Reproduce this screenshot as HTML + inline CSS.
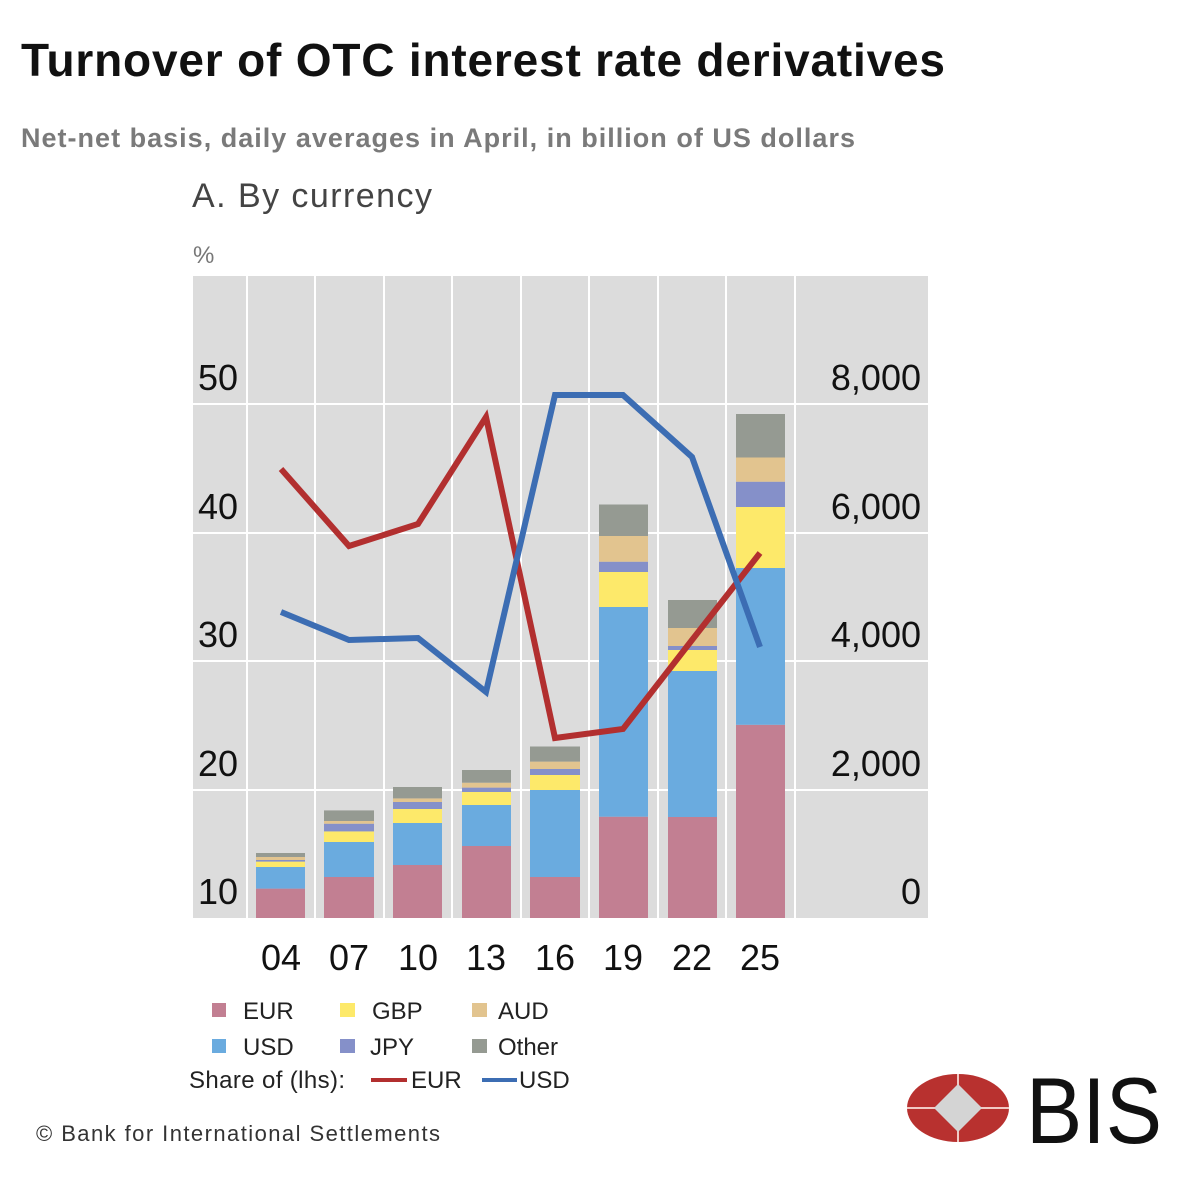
<!DOCTYPE html>
<html><head><meta charset="utf-8"><style>
html,body{margin:0;padding:0;background:#fff;}
svg{display:block;font-family:"Liberation Sans",sans-serif;}
</style></head><body>
<svg width="1200" height="1200" viewBox="0 0 1200 1200" xmlns="http://www.w3.org/2000/svg">
<rect width="1200" height="1200" fill="#fff"/>
<text x="21" y="76" font-size="46" font-weight="bold" fill="#111" textLength="924" lengthAdjust="spacing">Turnover of OTC interest rate derivatives</text>
<text x="21" y="147" font-size="27" font-weight="bold" fill="#7a7a7a" textLength="834" lengthAdjust="spacing">Net-net basis, daily averages in April, in billion of US dollars</text>
<text x="192" y="207" font-size="34" fill="#444" textLength="240" lengthAdjust="spacing">A. By currency</text>
<text x="193" y="263" font-size="24" fill="#777">%</text>
<rect x="193" y="276" width="735" height="642" fill="#dcdcdc"/>
<g stroke="#fff" stroke-width="2">
<line x1="193" y1="404" x2="928" y2="404"/><line x1="193" y1="533" x2="928" y2="533"/>
<line x1="193" y1="661" x2="928" y2="661"/><line x1="193" y1="790" x2="928" y2="790"/>
<line x1="247" y1="276" x2="247" y2="918"/><line x1="315" y1="276" x2="315" y2="918"/>
<line x1="384" y1="276" x2="384" y2="918"/><line x1="452" y1="276" x2="452" y2="918"/>
<line x1="521" y1="276" x2="521" y2="918"/><line x1="589" y1="276" x2="589" y2="918"/>
<line x1="658" y1="276" x2="658" y2="918"/><line x1="726" y1="276" x2="726" y2="918"/>
<line x1="795" y1="276" x2="795" y2="918"/>
</g>
<g font-size="36" fill="#111">
<text x="198" y="390">50</text><text x="198" y="519">40</text><text x="198" y="647">30</text><text x="198" y="776">20</text><text x="198" y="904">10</text>
<g text-anchor="end"><text x="921" y="390">8,000</text><text x="921" y="519">6,000</text><text x="921" y="647">4,000</text><text x="921" y="776">2,000</text><text x="921" y="904">0</text></g>
<g text-anchor="middle"><text x="281" y="970">04</text><text x="349" y="970">07</text><text x="418" y="970">10</text><text x="486" y="970">13</text><text x="555" y="970">16</text><text x="623" y="970">19</text><text x="692" y="970">22</text><text x="760" y="970">25</text></g>
</g>
<g>
<rect x="256" y="888.6" width="49" height="29.4" fill="#c27f92"/><rect x="256" y="867" width="49" height="21.6" fill="#6aabdf"/><rect x="256" y="861.6" width="49" height="5.4" fill="#fde96a"/><rect x="256" y="860" width="49" height="1.6" fill="#8590c9"/><rect x="256" y="857" width="49" height="3" fill="#e2c48f"/><rect x="256" y="853" width="49" height="4" fill="#959a92"/>
<rect x="324" y="877" width="50" height="41" fill="#c27f92"/><rect x="324" y="842" width="50" height="35" fill="#6aabdf"/><rect x="324" y="831.4" width="50" height="10.6" fill="#fde96a"/><rect x="324" y="823.7" width="50" height="7.7" fill="#8590c9"/><rect x="324" y="821" width="50" height="2.7" fill="#e2c48f"/><rect x="324" y="810.4" width="50" height="10.6" fill="#959a92"/>
<rect x="393" y="865" width="49" height="53" fill="#c27f92"/><rect x="393" y="823" width="49" height="42" fill="#6aabdf"/><rect x="393" y="809" width="49" height="14" fill="#fde96a"/><rect x="393" y="802" width="49" height="7" fill="#8590c9"/><rect x="393" y="798.4" width="49" height="3.6" fill="#e2c48f"/><rect x="393" y="787" width="49" height="11.4" fill="#959a92"/>
<rect x="462" y="846" width="49" height="72" fill="#c27f92"/><rect x="462" y="805" width="49" height="41" fill="#6aabdf"/><rect x="462" y="792" width="49" height="13" fill="#fde96a"/><rect x="462" y="787.6" width="49" height="4.4" fill="#8590c9"/><rect x="462" y="782.7" width="49" height="4.9" fill="#e2c48f"/><rect x="462" y="770" width="49" height="12.7" fill="#959a92"/>
<rect x="530" y="877" width="50" height="41" fill="#c27f92"/><rect x="530" y="790" width="50" height="87" fill="#6aabdf"/><rect x="530" y="775" width="50" height="15" fill="#fde96a"/><rect x="530" y="769" width="50" height="6" fill="#8590c9"/><rect x="530" y="761.6" width="50" height="7.4" fill="#e2c48f"/><rect x="530" y="746.5" width="50" height="15.1" fill="#959a92"/>
<rect x="599" y="816.7" width="49" height="101.3" fill="#c27f92"/><rect x="599" y="607" width="49" height="209.7" fill="#6aabdf"/><rect x="599" y="572" width="49" height="35" fill="#fde96a"/><rect x="599" y="561.7" width="49" height="10.3" fill="#8590c9"/><rect x="599" y="536" width="49" height="25.7" fill="#e2c48f"/><rect x="599" y="504.5" width="49" height="31.5" fill="#959a92"/>
<rect x="668" y="817" width="49" height="101" fill="#c27f92"/><rect x="668" y="671" width="49" height="146" fill="#6aabdf"/><rect x="668" y="650" width="49" height="21" fill="#fde96a"/><rect x="668" y="646" width="49" height="4" fill="#8590c9"/><rect x="668" y="628" width="49" height="18" fill="#e2c48f"/><rect x="668" y="600" width="49" height="28" fill="#959a92"/>
<rect x="736" y="724.8" width="49" height="193.2" fill="#c27f92"/><rect x="736" y="568" width="49" height="156.8" fill="#6aabdf"/><rect x="736" y="507" width="49" height="61" fill="#fde96a"/><rect x="736" y="481.7" width="49" height="25.3" fill="#8590c9"/><rect x="736" y="457.5" width="49" height="24.2" fill="#e2c48f"/><rect x="736" y="414" width="49" height="43.5" fill="#959a92"/>
</g>
<polyline points="281,469 349,546 418,524 486,417 555,738 623,729 692,640 760,553" fill="none" stroke="#b22f2f" stroke-width="6"/>
<polyline points="281,612 349,640 418,638 486,692 555,395 623,395 692,457 760,647" fill="none" stroke="#3c6db3" stroke-width="6"/>
<g font-size="24" fill="#222">
<rect x="212" y="1003" width="14" height="14" fill="#c27f92"/><text x="243" y="1019">EUR</text>
<rect x="340" y="1003" width="15" height="14" fill="#fde96a"/><text x="372" y="1019">GBP</text>
<rect x="472" y="1003" width="15" height="14" fill="#e2c48f"/><text x="498" y="1019">AUD</text>
<rect x="212" y="1039" width="14" height="14" fill="#6aabdf"/><text x="243" y="1055">USD</text>
<rect x="340" y="1039" width="15" height="14" fill="#8590c9"/><text x="370" y="1055">JPY</text>
<rect x="472" y="1039" width="15" height="14" fill="#959a92"/><text x="498" y="1055">Other</text>
<text x="189" y="1088" textLength="156" lengthAdjust="spacing">Share of (lhs):</text>
<line x1="371" y1="1080" x2="407" y2="1080" stroke="#b22f2f" stroke-width="4"/><text x="411" y="1088">EUR</text>
<line x1="482" y1="1080" x2="517" y2="1080" stroke="#3c6db3" stroke-width="4"/><text x="519" y="1088">USD</text>
</g>
<text x="36" y="1141" font-size="22" fill="#333" textLength="404" lengthAdjust="spacing">© Bank for International Settlements</text>
<ellipse cx="958" cy="1108" rx="51" ry="34" fill="#b8312f"/>
<line x1="907" y1="1108" x2="1009" y2="1108" stroke="#f1c9c4" stroke-width="2"/>
<line x1="958" y1="1074" x2="958" y2="1142" stroke="#f1c9c4" stroke-width="2"/>
<polygon points="958,1084 982,1108 958,1132 934,1108" fill="#d4d4d4"/>
<text x="1026" y="1143" font-size="94" fill="#111" textLength="136" lengthAdjust="spacingAndGlyphs">BIS</text>
</svg>
</body></html>
